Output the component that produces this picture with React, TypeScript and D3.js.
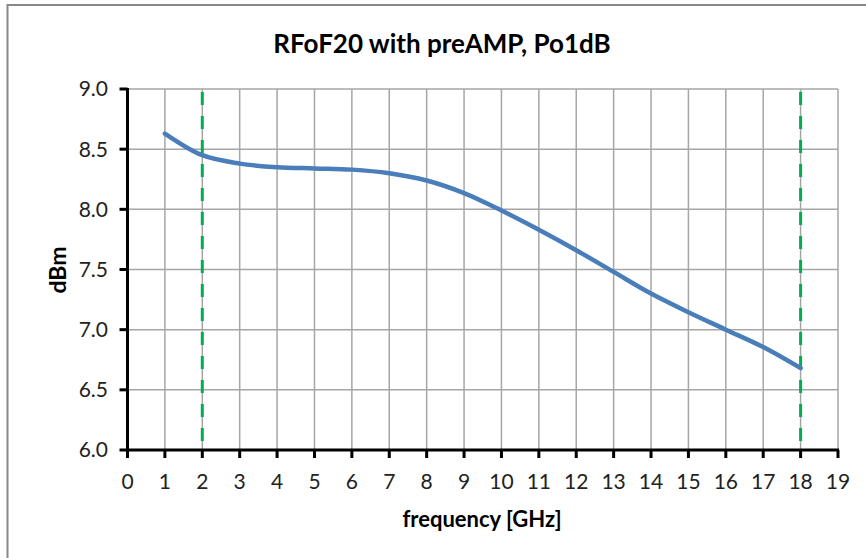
import React from "react";
import * as d3 from "d3";

const freqs = [1, 2, 3, 4, 5, 6, 7, 8, 9, 10, 11, 12, 13, 14, 15, 16, 17, 18];
const po1dB = [8.63, 8.45, 8.38, 8.35, 8.34, 8.33, 8.30, 8.24, 8.135, 7.99, 7.83, 7.66, 7.48, 7.30, 7.145, 7.0, 6.855, 6.68];
const xTicks = d3.range(0, 20);
const yTicks = [6.0, 6.5, 7.0, 7.5, 8.0, 8.5, 9.0];
const markers = [2, 18];

const W = 866, H = 558;
const FONT = "Lato, 'Open Sans', sans-serif";

export default function App() {
  const x = d3.scaleLinear().domain([0, 19]).range([127.5, 838]);
  const y = d3.scaleLinear().domain([6, 9]).range([450, 89]);
  const line = d3
    .line<number>()
    .x((_, i) => x(freqs[i]))
    .y((d) => y(d))
    .curve(d3.curveCatmullRom.alpha(0.5));

  return (
    <svg width={W} height={H} style={{ position: "absolute", left: 0, top: 0, background: "#fff" }}>
      <rect x={7.5} y={5} width={W + 20} height={H + 20} fill="#fff" stroke="#888" strokeWidth={2} />
      <text x={442} y={53} textAnchor="middle" fontFamily={FONT} fontWeight="bold" fontSize={26} fill="#000">
        RFoF20 with preAMP, Po1dB
      </text>
      {/* grid */}
      {xTicks.slice(1).map((t) => (
        <line key={"gx" + t} x1={x(t)} x2={x(t)} y1={y(9)} y2={y(6)} stroke="#a6a6a6" strokeWidth={1.5} />
      ))}
      {yTicks.slice(1).map((t) => (
        <line key={"gy" + t} x1={x(0)} x2={x(19)} y1={y(t)} y2={y(t)} stroke="#a6a6a6" strokeWidth={1.5} />
      ))}
      {/* markers */}
      {markers.map((m) => (
        <line key={"m" + m} x1={x(m)} x2={x(m)} y1={92} y2={y(6)} stroke="#00b050" strokeWidth={3} strokeDasharray="13 11" />
      ))}
      {/* curve */}
      <path d={line(po1dB) || ""} fill="none" stroke="#4a7ebb" strokeWidth={4.5} strokeLinecap="round" />
      {/* axes */}
      <line x1={x(0)} x2={x(0)} y1={y(9) - 1} y2={y(6) + 1.5} stroke="#000" strokeWidth={3} />
      <line x1={x(0) - 1.5} x2={x(19) + 1} y1={y(6)} y2={y(6)} stroke="#000" strokeWidth={3} />
      {yTicks.map((t) => (
        <g key={"yt" + t}>
          <line x1={x(0) - 8} x2={x(0)} y1={y(t)} y2={y(t)} stroke="#000" strokeWidth={3} />
          <text x={108} y={y(t)} dy="0.35em" textAnchor="end" fontFamily={FONT} fontSize={21} fill="#222">
            {t.toFixed(1)}
          </text>
        </g>
      ))}
      {xTicks.map((t) => (
        <g key={"xt" + t}>
          <line x1={x(t)} x2={x(t)} y1={y(6)} y2={y(6) + 8} stroke="#000" strokeWidth={3} />
          <text x={x(t)} y={489} textAnchor="middle" fontFamily={FONT} fontSize={21} fill="#222">
            {t}
          </text>
        </g>
      ))}
      <text x={482} y={527} textAnchor="middle" fontFamily={FONT} fontWeight="bold" fontSize={22} fill="#000">
        frequency [GHz]
      </text>
      <text transform="translate(66,270) rotate(-90)" textAnchor="middle" fontFamily={FONT} fontWeight="bold" fontSize={23} fill="#000">
        dBm
      </text>
    </svg>
  );
}
